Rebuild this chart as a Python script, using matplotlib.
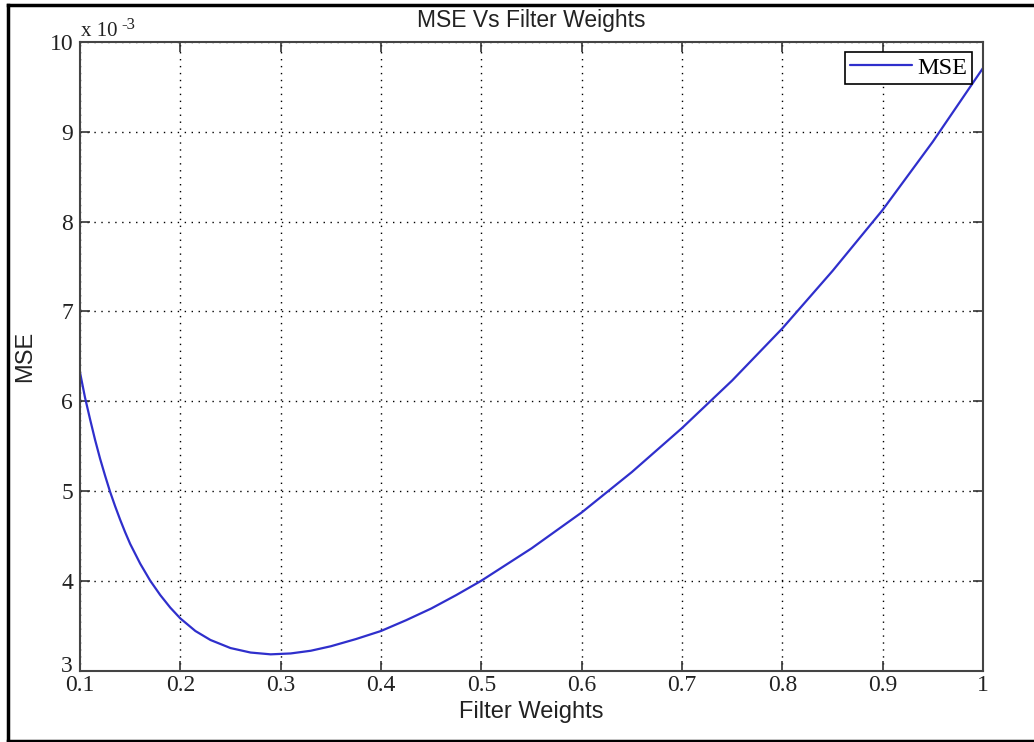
import matplotlib
matplotlib.use("Agg")
import matplotlib.pyplot as plt
from matplotlib.lines import Line2D
from matplotlib.transforms import ScaledTranslation

# Data (MSE in units of 1e-3)
weights = [0.100, 0.105, 0.110, 0.115, 0.120, 0.125, 0.130, 0.135, 0.140, 0.145,
           0.150, 0.160, 0.170, 0.180, 0.190, 0.200, 0.215, 0.230, 0.250, 0.270,
           0.290, 0.310, 0.330, 0.350, 0.375, 0.400, 0.425, 0.450, 0.475, 0.500,
           0.550, 0.600, 0.650, 0.700, 0.750, 0.800, 0.850, 0.900, 0.950, 1.000]
mse = [6.32, 6.04, 5.80, 5.57, 5.36, 5.17, 4.99, 4.83, 4.68, 4.54,
       4.41, 4.19, 4.00, 3.84, 3.70, 3.58, 3.44, 3.34, 3.25, 3.20,
       3.18, 3.19, 3.22, 3.27, 3.35, 3.44, 3.56, 3.69, 3.84, 4.00,
       4.36, 4.76, 5.21, 5.70, 6.23, 6.81, 7.45, 8.13, 8.89, 9.71]

x_ticks = [0.1, 0.2, 0.3, 0.4, 0.5, 0.6, 0.7, 0.8, 0.9, 1.0]
x_tick_labels = ["0.1", "0.2", "0.3", "0.4", "0.5", "0.6", "0.7", "0.8", "0.9", "1"]
y_ticks = [3, 4, 5, 6, 7, 8, 9, 10]
y_tick_labels = ["3", "4", "5", "6", "7", "8", "9", "10"]

W, H = 1034, 742
fig = plt.figure(figsize=(W / 100, H / 100), dpi=100)
fig.patch.set_facecolor("white")

ax = fig.add_axes([80 / W, 1 - 670.5 / H, (983 - 80) / W, (670.5 - 42) / H])

ax.plot(weights, mse, color="#2f2fcc", lw=1.6, label="MSE",
        solid_joinstyle="round", solid_capstyle="round")

ax.set_xlim(0.1, 1.0)
ax.set_ylim(3, 10)
ax.set_xticks(x_ticks)
ax.set_xticklabels(x_tick_labels, family="Liberation Serif", fontsize=17, color="#222222")
ax.set_yticks(y_ticks)
ax.set_yticklabels(y_tick_labels, family="Liberation Serif", fontsize=17, color="#222222")
ax.tick_params(direction="in", length=7, width=1.2, top=True, right=True,
               color="#333333")
ax.tick_params(axis="x", pad=3.5)
ax.tick_params(axis="y", pad=5)

# lift the lowest y label slightly, as in the reference
lbl3 = ax.get_yticklabels()[0]
lbl3.set_transform(lbl3.get_transform() + ScaledTranslation(0, 5 / 72, fig.dpi_scale_trans))

ax.grid(True, color="black", linestyle=(0, (1, 4)), linewidth=1.0)

for s in ax.spines.values():
    s.set_color("#444444")
    s.set_linewidth(1.5)

ax.set_title("MSE Vs Filter Weights", family="Liberation Sans", fontsize=16.5,
             color="#222222", pad=10.5)
ax.set_xlabel("Filter Weights", family="Liberation Sans", fontsize=17, color="#222222")
ax.set_ylabel("MSE", family="Liberation Sans", fontsize=17, color="#222222")
ax.xaxis.set_label_coords(0.5, (670.5 - 701) / 628.5)
ax.yaxis.set_label_coords((36 - 80) / 903, 0.5)

# axis multiplier
fig.text(81 / W, 1 - 36 / H, "x 10", family="Liberation Serif",
         fontsize=15, color="#222222", ha="left", va="baseline")
fig.text(121 / W, 1 - 29 / H, "-3", family="Liberation Serif",
         fontsize=12, color="#222222", ha="left", va="baseline")

leg = ax.legend(loc="upper right", prop={"family": "Liberation Serif", "size": 17.5},
                fancybox=False, framealpha=1, edgecolor="black",
                borderpad=0.2, handlelength=2.55, handletextpad=0.2,
                borderaxespad=0,
                bbox_to_anchor=(972 / W, 1 - 52 / H), bbox_transform=fig.transFigure)
leg.get_frame().set_linewidth(1.2)

# outer border (left, top, bottom)
fig.add_artist(Line2D([7.5 / W, 7.5 / W], [1 - 5 / H, 1 - 741 / H], transform=fig.transFigure,
                      color="black", lw=2.5))
fig.add_artist(Line2D([7.5 / W, 1.0], [1 - 5 / H, 1 - 5 / H], transform=fig.transFigure,
                      color="black", lw=2.5))
fig.add_artist(Line2D([7.5 / W, 1.0], [1 - 741 / H, 1 - 741 / H], transform=fig.transFigure,
                      color="black", lw=2.5))

fig.savefig("out.png", dpi=100)
